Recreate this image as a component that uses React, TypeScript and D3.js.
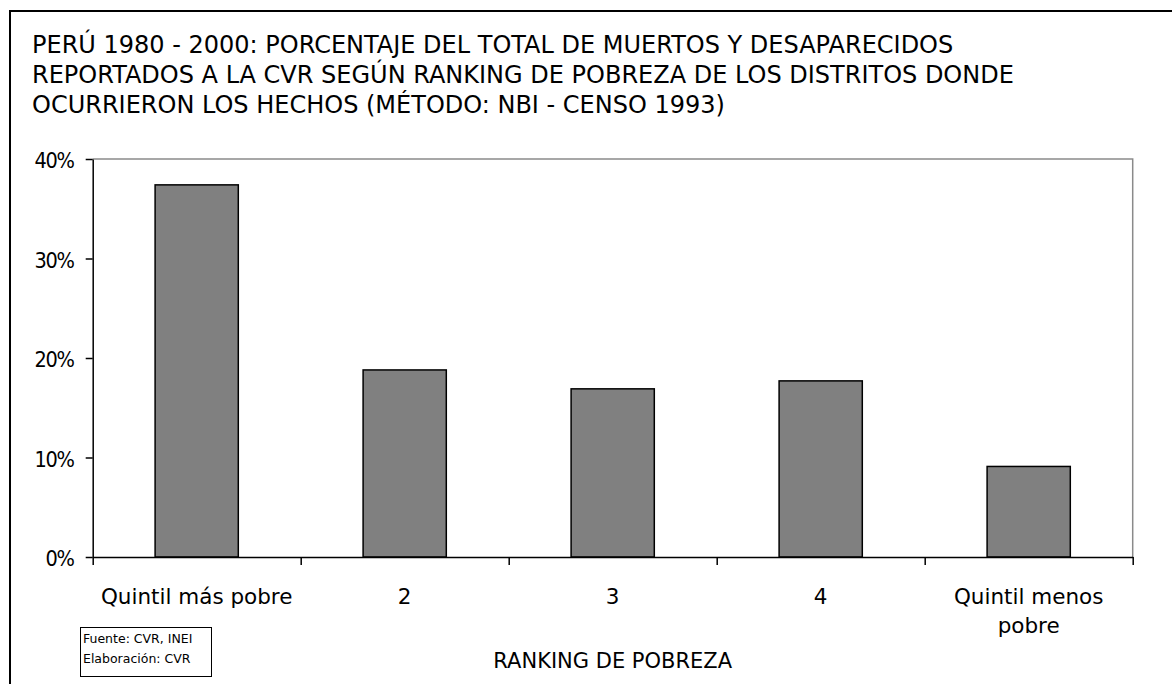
import React, { useEffect, useRef } from "react";
import * as d3 from "d3";

const titleLines = [
  "PERÚ 1980 - 2000: PORCENTAJE DEL TOTAL DE MUERTOS Y DESAPARECIDOS",
  "REPORTADOS A LA CVR SEGÚN RANKING DE POBREZA DE LOS DISTRITOS DONDE",
  "OCURRIERON LOS HECHOS (MÉTODO: NBI - CENSO 1993)",
];
const categories = ["q1", "q2", "q3", "q4", "q5"];
const categoryLabels = [["Quintil más pobre"], ["2"], ["3"], ["4"], ["Quintil menos", "pobre"]];
const values = [37.4, 18.8, 16.9, 17.7, 9.1];
const yTicks = [0, 10, 20, 30, 40];
const xTitle = "RANKING DE POBREZA";
const sourceLines = ["Fuente: CVR, INEI", "Elaboración: CVR"];

const W = 1172;
const H = 684;
const FONT = "'DejaVu Sans', sans-serif";
const FONT_NARROW = "'DejaVu Sans Condensed', 'DejaVu Sans', sans-serif";
const plot = { left: 92.7, right: 1132.7, top: 159, bottom: 557 };

const App = () => {
  const svgRef = useRef<SVGSVGElement>(null);

  useEffect(() => {
    document.body.style.margin = "0";
    const svg = d3.select(svgRef.current);
    svg.selectAll("*").remove();
    svg.attr("width", W).attr("height", H).style("font-family", FONT);

    svg.append("rect").attr("width", W).attr("height", H).attr("fill", "#fff");

    // outer frame (only top and left fall inside the picture)
    svg
      .append("path")
      .attr("d", `M10,${H + 5}V11H${W + 5}`)
      .attr("fill", "none")
      .attr("stroke", "#000")
      .attr("stroke-width", 2);

    svg
      .append("g")
      .selectAll("text")
      .data(titleLines)
      .enter()
      .append("text")
      .attr("x", 32)
      .attr("y", (d, i) => 53 + i * 30)
      .attr("font-size", 24)
      .attr("fill", "#000")
      .text(d => d);

    const x = d3
      .scaleBand()
      .domain(categories)
      .range([plot.left, plot.right])
      .paddingInner(0.6)
      .paddingOuter(0.3);
    const xEdges = d3.scaleLinear().domain([0, categories.length]).range([plot.left, plot.right]);
    const y = d3.scaleLinear().domain([0, 40]).range([plot.bottom, plot.top]);

    // top and right of the plot frame
    svg
      .append("path")
      .attr("d", `M${plot.left},${plot.top}H${plot.right}V${plot.bottom}`)
      .attr("fill", "none")
      .attr("stroke", "#8a8a8a")
      .attr("stroke-width", 1.5);

    svg
      .append("g")
      .selectAll("rect")
      .data(values)
      .enter()
      .append("rect")
      .attr("x", (d, i) => x(categories[i])!)
      .attr("y", d => y(d))
      .attr("width", x.bandwidth())
      .attr("height", d => y(0) - y(d))
      .attr("fill", "#808080")
      .attr("stroke", "#000")
      .attr("stroke-width", 1.5);

    const yAxis = svg
      .append("g")
      .attr("transform", `translate(${plot.left},0)`)
      .call(
        d3
          .axisLeft(y)
          .tickValues(yTicks)
          .tickSizeInner(7)
          .tickSizeOuter(0)
          .tickPadding(12)
          .tickFormat(d => `${d}%`)
      );
    yAxis.selectAll("path, line").attr("stroke", "#000").attr("stroke-width", 1.5);
    yAxis
      .selectAll("text")
      .attr("font-size", 21.5)
      .attr("font-family", FONT_NARROW)
      .attr("letter-spacing", -1.3)
      .attr("dy", "0.4em")
      .attr("fill", "#000");

    const xAxis = svg
      .append("g")
      .attr("transform", `translate(0,${plot.bottom})`)
      .call(
        d3
          .axisBottom(xEdges)
          .tickValues(d3.range(categories.length + 1))
          .tickSizeInner(8)
          .tickSizeOuter(0)
          .tickFormat(() => "")
      );
    xAxis.selectAll("path, line").attr("stroke", "#000").attr("stroke-width", 1.5);

    const labels = svg
      .append("g")
      .selectAll("text")
      .data(categoryLabels)
      .enter()
      .append("text")
      .attr("text-anchor", "middle")
      .attr("font-size", 21.5)
      .attr("fill", "#000");
    labels
      .selectAll("tspan")
      .data((d, i) => d.map(line => ({ line, i })))
      .enter()
      .append("tspan")
      .attr("x", d => x(categories[d.i])! + x.bandwidth() / 2)
      .attr("y", (d, j) => 604 + j * 29)
      .text(d => d.line);

    svg
      .append("text")
      .attr("x", (plot.left + plot.right) / 2)
      .attr("y", 668)
      .attr("text-anchor", "middle")
      .attr("font-size", 21)
      .attr("fill", "#000")
      .text(xTitle);

    svg
      .append("rect")
      .attr("x", 80.5)
      .attr("y", 627.5)
      .attr("width", 131)
      .attr("height", 49)
      .attr("fill", "#fff")
      .attr("stroke", "#000")
      .attr("stroke-width", 1);
    svg
      .append("g")
      .selectAll("text")
      .data(sourceLines)
      .enter()
      .append("text")
      .attr("x", 83)
      .attr("y", (d, i) => 643 + i * 20)
      .attr("font-size", 12.5)
      .attr("fill", "#000")
      .text(d => d);
  }, []);

  return <svg ref={svgRef} style={{ display: "block" }} />;
};

export default App;
